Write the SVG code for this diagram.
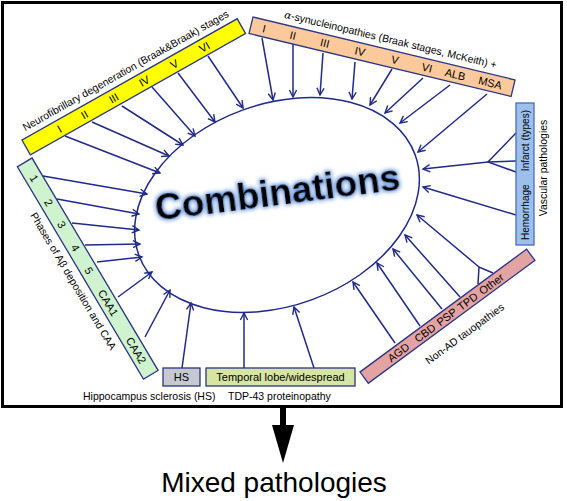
<svg xmlns="http://www.w3.org/2000/svg" width="567" height="501" viewBox="0 0 567 501">
<style>
text{font-family:"Liberation Sans",Arial,sans-serif;fill:#000}
.lbl{font-size:11px;text-anchor:middle}
.ttl{font-size:10.5px}
.bar{stroke:#2a3585;stroke-width:1.3}
.cn{fill:none;stroke:#1f2a8a;stroke-width:1.5}
.ar{marker-end:url(#ah)}
</style>
<defs>
<marker id="ah" viewBox="-8 -5 10 10" markerWidth="10" markerHeight="10" refX="0" refY="0" orient="auto" markerUnits="userSpaceOnUse">
<path d="M-7,-3.6 L0,0 L-7,3.6" fill="none" stroke="#1f2a8a" stroke-width="1.4"/>
</marker>
<filter id="glow" x="-10%" y="-40%" width="120%" height="180%">
<feMorphology in="SourceAlpha" operator="dilate" radius="1.2" result="d"/>
<feGaussianBlur in="d" stdDeviation="2.2" result="b"/>
<feFlood flood-color="#5f8fd6"/>
<feComposite in2="b" operator="in" result="g"/>
<feGaussianBlur in="SourceGraphic" stdDeviation="0.5" result="s"/>
<feMerge><feMergeNode in="g"/><feMergeNode in="s"/></feMerge>
</filter>
</defs>
<rect x="0" y="0" width="567" height="501" fill="#fff"/>
<rect x="2.5" y="2.5" width="559" height="404" fill="none" stroke="#000" stroke-width="3"/>

<g id="center">
<ellipse cx="277" cy="205" rx="147" ry="101" transform="rotate(-20 277 205)" fill="#fff" stroke="#1f2a8a" stroke-width="1.5"/>
<text transform="translate(279,205) rotate(-7.3)" x="0" y="0" text-anchor="middle" font-size="37" font-weight="bold" filter="url(#glow)">Combinations</text>
</g>

<g id="connectors">
<line class="cn ar" x1="65" y1="136" x2="160" y2="173"/>
<line class="cn ar" x1="92" y1="122" x2="169" y2="156"/>
<line class="cn ar" x1="122" y1="106" x2="183" y2="145"/>
<line class="cn ar" x1="152" y1="87" x2="195" y2="136"/>
<line class="cn ar" x1="178" y1="73" x2="215" y2="122"/>
<line class="cn ar" x1="208" y1="56" x2="243" y2="108"/>

<line class="cn ar" x1="262" y1="38" x2="273" y2="100"/>
<line class="cn ar" x1="293" y1="43" x2="293" y2="97"/>
<line class="cn ar" x1="323" y1="53" x2="320" y2="95"/>
<line class="cn ar" x1="355" y1="62" x2="352" y2="99"/>
<line class="cn ar" x1="392" y1="69" x2="370" y2="105"/>
<line class="cn ar" x1="423" y1="78" x2="385" y2="113"/>
<line class="cn ar" x1="450" y1="85" x2="400" y2="123"/>
<line class="cn ar" x1="487" y1="94" x2="418" y2="152"/>

<polyline class="cn" points="516,133 488,162 516,172"/>
<line class="cn" x1="516" y1="161" x2="488" y2="162"/>
<line class="cn ar" x1="488" y1="162" x2="423" y2="169"/>
<line class="cn ar" x1="516" y1="215" x2="423" y2="187"/>

<line class="cn ar" x1="395" y1="343" x2="353" y2="282"/>
<line class="cn ar" x1="420" y1="326" x2="377" y2="263"/>
<line class="cn ar" x1="442" y1="309" x2="393" y2="249"/>
<line class="cn ar" x1="460" y1="297" x2="405" y2="235"/>
<polyline class="cn" points="478,284 479,267 493,273"/>
<line class="cn ar" x1="479" y1="267" x2="417" y2="215"/>

<line class="cn ar" x1="43" y1="176" x2="147" y2="194"/>
<line class="cn ar" x1="57" y1="199" x2="139" y2="214"/>
<line class="cn ar" x1="72" y1="223" x2="139" y2="230"/>
<line class="cn ar" x1="85" y1="245" x2="140" y2="244"/>
<line class="cn ar" x1="97" y1="262" x2="142" y2="257"/>
<line class="cn ar" x1="118" y1="297" x2="152" y2="272"/>
<line class="cn ar" x1="145" y1="337" x2="170" y2="290"/>

<line class="cn ar" x1="182" y1="368" x2="191" y2="303"/>
<line class="cn ar" x1="244" y1="368" x2="244" y2="313"/>
<line class="cn ar" x1="314" y1="368" x2="294" y2="307"/>
</g>

<g id="neurofibrillary" transform="translate(22,140) rotate(-29.4)">
<rect class="bar" x="0" y="0" width="247" height="17" fill="#ffff00"/>
<text class="ttl" x="7" y="-6">Neurofibrillary degeneration (Braak&amp;Braak) stages</text>
<text class="lbl" x="38" y="12.5">I</text>
<text class="lbl" x="67" y="12.5">II</text>
<text class="lbl" x="100.5" y="12.5">III</text>
<text class="lbl" x="135.5" y="12.5">IV</text>
<text class="lbl" x="170" y="12.5">V</text>
<text class="lbl" x="204.5" y="12.5">VI</text>
</g>

<g id="synucleinopathies" transform="translate(253,17) rotate(13.5)">
<rect class="bar" x="0" y="0" width="269.5" height="17" fill="#fbc99b"/>
<text class="ttl" x="30" y="-6.5"><tspan font-family="'DejaVu Serif',serif" font-style="italic">α</tspan>-synucleinopathies (Braak stages, McKeith) +</text>
<text class="lbl" x="13.5" y="12.5">I</text>
<text class="lbl" x="43" y="12.5">II</text>
<text class="lbl" x="76" y="12.5">III</text>
<text class="lbl" x="112" y="12.5">IV</text>
<text class="lbl" x="148" y="12.5">V</text>
<text class="lbl" x="181" y="12.5">VI</text>
<text class="lbl" x="210" y="12.5">ALB</text>
<text class="lbl" x="246" y="12.5">MSA</text>
</g>

<g id="vascular">
<rect x="516" y="103" width="18" height="142" fill="#9cc0ea" stroke="#4a6cc0" stroke-width="1.3"/>
<text transform="translate(528.5,240) rotate(-90)" x="0" y="0" font-size="10">Hemorrhage</text>
<text transform="translate(528.5,110) rotate(-90)" x="0" y="0" font-size="10" text-anchor="end">Infarct (types)</text>
<text class="ttl" transform="translate(547,168) rotate(-90)" x="0" y="0" text-anchor="middle">Vascular pathologies</text>
</g>

<g id="tauopathies" transform="translate(360,372) rotate(-36.4)">
<rect class="bar" x="0" y="0" width="207" height="14" fill="#e4a3a3"/>
<text class="lbl" x="42.5" y="11">AGD</text>
<text class="lbl" x="75.5" y="11">CBD</text>
<text class="lbl" x="102.5" y="11">PSP</text>
<text class="lbl" x="128.5" y="11">TPD</text>
<text class="lbl" x="158" y="11">Other</text>
<text class="ttl" x="107" y="35" text-anchor="middle">Non-AD tauopathies</text>
</g>

<g id="abeta" transform="translate(32,158) rotate(59.3)">
<rect class="bar" x="0" y="0" width="247" height="17" fill="#cff3cf"/>
<text class="lbl" x="18.6" y="12.5">1</text>
<text class="lbl" x="46.9" y="12.5">2</text>
<text class="lbl" x="72.4" y="12.5">3</text>
<text class="lbl" x="99.4" y="12.5">4</text>
<text class="lbl" x="125.8" y="12.5">5</text>
<text class="lbl" x="163.5" y="12.5">CAA1</text>
<text class="lbl" x="218.7" y="12.5">CAA2</text>
<text class="ttl" x="127" y="31" text-anchor="middle">Phases of Aβ deposition and CAA</text>
</g>

<g id="hs">
<rect x="163" y="368" width="37" height="18" fill="#c8c8d0" stroke="#2a3585" stroke-width="1.3"/>
<text class="lbl" x="181.5" y="381">HS</text>
<text class="ttl" x="83" y="400">Hippocampus sclerosis (HS)</text>
</g>

<g id="tdp43">
<rect x="206" y="368" width="149" height="18" fill="#d6e4a4" stroke="#2a3585" stroke-width="1.3"/>
<text class="lbl" x="280.5" y="381">Temporal lobe/widespread</text>
<text class="ttl" x="228" y="400">TDP-43 proteinopathy</text>
</g>

<g id="mixed">
<rect x="280" y="407" width="6" height="19" fill="#000"/>
<polygon points="272,425 294,425 283,463" fill="#000"/>
<text x="274" y="492" text-anchor="middle" font-size="28">Mixed pathologies</text>
</g>
</svg>
